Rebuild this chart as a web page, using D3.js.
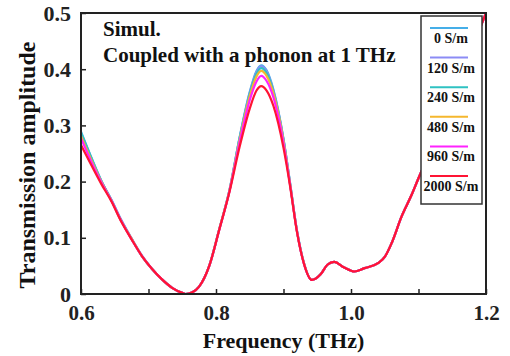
<!DOCTYPE html>
<html>
<head>
    <title>Transmission amplitude vs frequency</title>
    <script src="https://d3js.org/d3.v7.min.js"></script>
    <style>
        body { margin: 0; background: #fff; }
        text { font-family: "Liberation Serif", "Times New Roman", serif; font-weight: bold; }
    </style>
</head>
<body>
    <div id="chart"></div>

    <script>
        // Frequency samples (THz)
        var freq = [0.6, 0.615, 0.63, 0.645, 0.66, 0.675, 0.69, 0.705, 0.72, 0.735, 0.75, 0.755,
            0.765, 0.775, 0.79, 0.805, 0.82, 0.835, 0.85, 0.86, 0.867, 0.875, 0.885, 0.9,
            0.91, 0.92, 0.93, 0.942, 0.955, 0.965, 0.975, 0.99, 1.005, 1.02, 1.04, 1.05,
            1.06, 1.075, 1.09, 1.1, 1.12, 1.15, 1.18, 1.2];

        // Transmission amplitude for each conductivity
        var amp0 = [0.289, 0.244, 0.202, 0.167, 0.130, 0.098, 0.068, 0.045, 0.026, 0.011, 0.002, 0.0,
            0.003, 0.013, 0.050, 0.116, 0.185, 0.279, 0.360, 0.397, 0.407, 0.398, 0.364, 0.276,
            0.195, 0.112, 0.056, 0.025, 0.035, 0.052, 0.057, 0.047, 0.040, 0.046, 0.055, 0.066,
            0.090, 0.138, 0.177, 0.206, 0.260, 0.350, 0.440, 0.500];
        var amp120 = [0.285, 0.242, 0.201, 0.168, 0.131, 0.099, 0.069, 0.045, 0.026, 0.011, 0.002, 0.0,
            0.003, 0.013, 0.050, 0.116, 0.185, 0.278, 0.358, 0.395, 0.405, 0.396, 0.362, 0.275,
            0.195, 0.112, 0.056, 0.025, 0.035, 0.052, 0.057, 0.047, 0.040, 0.046, 0.055, 0.066,
            0.090, 0.138, 0.177, 0.206, 0.260, 0.350, 0.440, 0.500];
        var amp240 = [0.287, 0.243, 0.201, 0.167, 0.130, 0.098, 0.068, 0.045, 0.026, 0.011, 0.002, 0.0,
            0.003, 0.013, 0.050, 0.116, 0.184, 0.277, 0.356, 0.392, 0.402, 0.393, 0.360, 0.274,
            0.194, 0.112, 0.056, 0.025, 0.035, 0.052, 0.057, 0.047, 0.040, 0.046, 0.055, 0.066,
            0.090, 0.138, 0.177, 0.206, 0.260, 0.350, 0.440, 0.500];
        var amp480 = [0.281, 0.239, 0.200, 0.166, 0.129, 0.098, 0.068, 0.045, 0.026, 0.011, 0.002, 0.0,
            0.003, 0.013, 0.050, 0.116, 0.184, 0.274, 0.352, 0.387, 0.397, 0.388, 0.357, 0.272,
            0.193, 0.111, 0.056, 0.025, 0.035, 0.052, 0.057, 0.047, 0.040, 0.046, 0.055, 0.066,
            0.090, 0.138, 0.177, 0.206, 0.260, 0.350, 0.440, 0.500];
        var amp960 = [0.277, 0.236, 0.199, 0.166, 0.129, 0.097, 0.068, 0.045, 0.026, 0.011, 0.002, 0.0,
            0.003, 0.013, 0.050, 0.115, 0.183, 0.270, 0.345, 0.378, 0.388, 0.379, 0.350, 0.268,
            0.192, 0.111, 0.055, 0.025, 0.035, 0.052, 0.057, 0.047, 0.040, 0.046, 0.055, 0.066,
            0.090, 0.138, 0.177, 0.206, 0.260, 0.350, 0.440, 0.500];
        var amp2000 = [0.265, 0.230, 0.196, 0.165, 0.128, 0.097, 0.068, 0.045, 0.026, 0.011, 0.002, 0.0,
            0.003, 0.013, 0.050, 0.115, 0.182, 0.262, 0.330, 0.362, 0.370, 0.362, 0.335, 0.260,
            0.190, 0.110, 0.055, 0.025, 0.035, 0.052, 0.057, 0.047, 0.040, 0.046, 0.055, 0.066,
            0.090, 0.138, 0.177, 0.206, 0.260, 0.350, 0.440, 0.500];

        var seriesNames = ['0 S/m', '120 S/m', '240 S/m', '480 S/m', '960 S/m', '2000 S/m'];
        var seriesValues = [amp0, amp120, amp240, amp480, amp960, amp2000];
        var colors = ['#45aee8', '#8c8cf5', '#2fc2c2', '#f5b72e', '#ff22ff', '#ff1434'];

        var xTicks = [0.6, 0.7, 0.8, 0.9, 1.0, 1.1, 1.2];
        var xTickLabels = ['0.6', '', '0.8', '', '1.0', '', '1.2'];
        var yTicks = [0, 0.1, 0.2, 0.3, 0.4, 0.5];

        var margin = { top: 13, right: 24, bottom: 62, left: 81 };
        var width = 510 - margin.left - margin.right;
        var height = 356 - margin.top - margin.bottom;

        var svg = d3.select('#chart')
            .append('svg')
            .attr('width', 510)
            .attr('height', 356);

        var g = svg.append('g')
            .attr('transform', 'translate(' + margin.left + ',' + margin.top + ')');

        var x = d3.scaleLinear().domain([0.6, 1.2]).range([0, width]);
        var y = d3.scaleLinear().domain([0, 0.5]).range([height, 0]);

        svg.append('defs').append('clipPath').attr('id', 'clip')
            .append('rect').attr('width', width).attr('height', height);

        var line = d3.line()
            .x(function(d, i) { return x(freq[i]); })
            .y(function(d) { return y(d); })
            .curve(d3.curveMonotoneX);

        g.append('g').attr('clip-path', 'url(#clip)')
            .selectAll('path')
            .data(seriesValues)
            .enter()
            .append('path')
            .attr('fill', 'none')
            .attr('stroke', function(d, i) { return colors[i]; })
            .attr('stroke-width', 2.2)
            .attr('d', line);

        // x axis (ticks pointing inward)
        var xAxis = g.append('g')
            .attr('transform', 'translate(0,' + height + ')')
            .call(d3.axisBottom(x).tickValues(xTicks)
                .tickFormat(function(d, i) { return xTickLabels[i]; })
                .tickSizeInner(-5).tickSizeOuter(0).tickPadding(11));
        xAxis.select('.domain').remove();
        xAxis.selectAll('line').attr('stroke', '#222').attr('stroke-width', 1.5);
        xAxis.selectAll('text').attr('font-size', 21).attr('fill', '#222')
            .attr('font-family', '"Liberation Serif", serif').attr('font-weight', 'bold');

        // y axis
        var yAxis = g.append('g')
            .call(d3.axisLeft(y).tickValues(yTicks)
                .tickFormat(function(d) { return d === 0 ? '0' : d3.format('.1f')(d); })
                .tickSizeInner(-5).tickSizeOuter(0).tickPadding(10));
        yAxis.select('.domain').remove();
        yAxis.selectAll('line').attr('stroke', '#222').attr('stroke-width', 1.5);
        yAxis.selectAll('text').attr('font-size', 22).attr('fill', '#222')
            .attr('font-family', '"Liberation Serif", serif').attr('font-weight', 'bold');

        // frame
        g.append('rect')
            .attr('width', width).attr('height', height)
            .attr('fill', 'none').attr('stroke', '#222').attr('stroke-width', 2);

        // axis titles
        svg.append('text')
            .attr('x', margin.left + width / 2)
            .attr('y', 348)
            .attr('text-anchor', 'middle')
            .attr('font-size', 22)
            .attr('fill', '#111')
            .text('Frequency (THz)');

        svg.append('text')
            .attr('transform', 'translate(35,' + 165 + ') rotate(-90)')
            .attr('text-anchor', 'middle')
            .attr('font-size', 24)
            .attr('fill', '#111')
            .text('Transmission amplitude');

        // annotations
        g.append('text').attr('x', 22).attr('y', 23).attr('font-size', 21).attr('fill', '#111').text('Simul.');
        g.append('text').attr('x', 22).attr('y', 49).attr('font-size', 21).attr('fill', '#111').text('Coupled with a phonon at 1 THz');

        // legend
        var legend = svg.append('g').attr('transform', 'translate(421,16)');
        legend.append('rect')
            .attr('width', 61).attr('height', 188)
            .attr('fill', '#fff').attr('stroke', '#333').attr('stroke-width', 1.5);
        var items = legend.selectAll('g.item')
            .data(seriesNames)
            .enter().append('g')
            .attr('transform', function(d, i) { return 'translate(0,' + (12 + i * 29.6) + ')'; });
        items.append('line')
            .attr('x1', 9).attr('x2', 47)
            .attr('stroke', function(d, i) { return colors[i]; })
            .attr('stroke-width', 2);
        items.append('text')
            .attr('x', 30).attr('y', 15)
            .attr('text-anchor', 'middle')
            .attr('font-size', 14)
            .attr('fill', '#111')
            .text(function(d) { return d; });
    </script>
</body>
</html>
